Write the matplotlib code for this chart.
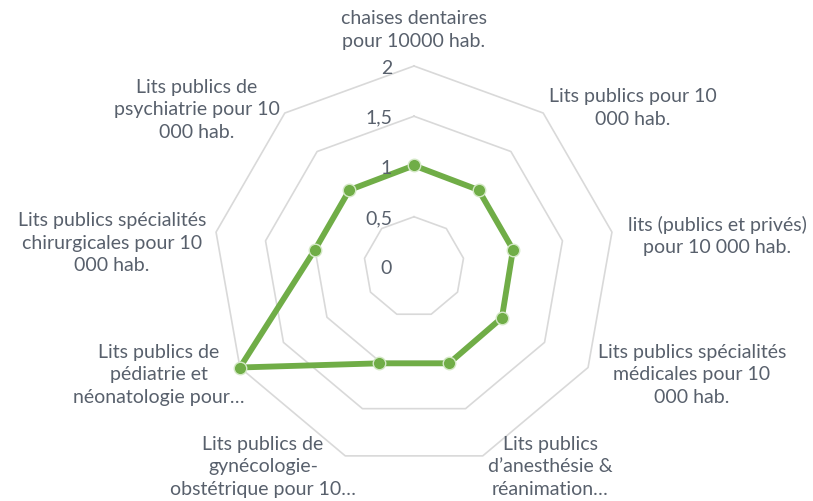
import numpy as np
import matplotlib
matplotlib.use("Agg")
import matplotlib.pyplot as plt

plt.rcParams['font.family'] = ['Lato', 'DejaVu Sans']

categories = [
    "chaises dentaires\npour 10000 hab.",
    "Lits publics pour 10\n000 hab.",
    "lits (publics et privés)\npour 10 000 hab.",
    "Lits publics spécialités\nmédicales pour 10\n000 hab.",
    "Lits publics\nd\u2019anesthésie &\nréanimation\u2026",
    "Lits publics de\ngynécologie-\nobstétrique pour 10\u2026",
    "Lits publics de\npédiatrie et\nnéonatologie pour\u2026",
    "Lits publics spécialités\nchirurgicales pour 10\n000 hab.",
    "Lits publics de\npsychiatrie pour 10\n000 hab.",
]
values = [1.01, 1.0, 1.0, 1.01, 1.02, 1.02, 2.0, 1.0, 1.0]
ring_levels = [0.5, 1.0, 1.5, 2.0]
tick_values = [0, 0.5, 1, 1.5, 2]
tick_labels = ["0", "0,5", "1", "1,5", "2"]

# where each category label sits (pixels, from the top-left corner)
label_xy = [(414, 30), (633, 108), (717, 236), (692, 375), (550, 467),
            (263, 467), (159, 375), (112, 243), (197, 110)]

W, H = 813, 502
text_color = '#58606c'
green = '#70ad47'

fig = plt.figure(figsize=(W / 100, H / 100), dpi=100)
cx, cy, R = 414, 268, 201
ax = fig.add_axes([(cx - R) / W, (H - cy - R) / H, 2 * R / W, 2 * R / H],
                  projection='polar')
ax.set_theta_offset(np.pi / 2)
ax.set_theta_direction(-1)
ax.set_ylim(0, 2)
ax.grid(False)
ax.spines['polar'].set_visible(False)
ax.set_xticks([])
ax.set_yticks([])
ax.patch.set_alpha(0)

n = len(categories)
theta = np.arange(n) * 2 * np.pi / n
theta_closed = np.append(theta, theta[0])

# polygonal gridlines
for lvl in ring_levels:
    ax.plot(theta_closed, [lvl] * (n + 1), color='#d9d9d9', lw=1.2,
            zorder=1, clip_on=False)

# series
vals_closed = values + values[:1]
ax.plot(theta_closed, vals_closed, color=green, lw=4.2, zorder=3,
        solid_joinstyle='round', clip_on=False)
ax.plot(theta, values, 'o', ms=9, mfc=green, mec='#d4e8c6', mew=1.0,
        zorder=4, clip_on=False)

# radial tick labels along the vertical axis
for tv, tl in zip(tick_values, tick_labels):
    px_y = cy - tv * R / 2
    fig.text(392 / W, 1 - (px_y + 1) / H, tl, ha='right', va='center',
             fontsize=14, color=text_color)

for lab, (x, y) in zip(categories, label_xy):
    fig.text(x / W, 1 - y / H, lab, ha='center', va='center',
             fontsize=14, color=text_color, linespacing=1.4,
             multialignment='center')

fig.savefig('out.png', dpi=100)
